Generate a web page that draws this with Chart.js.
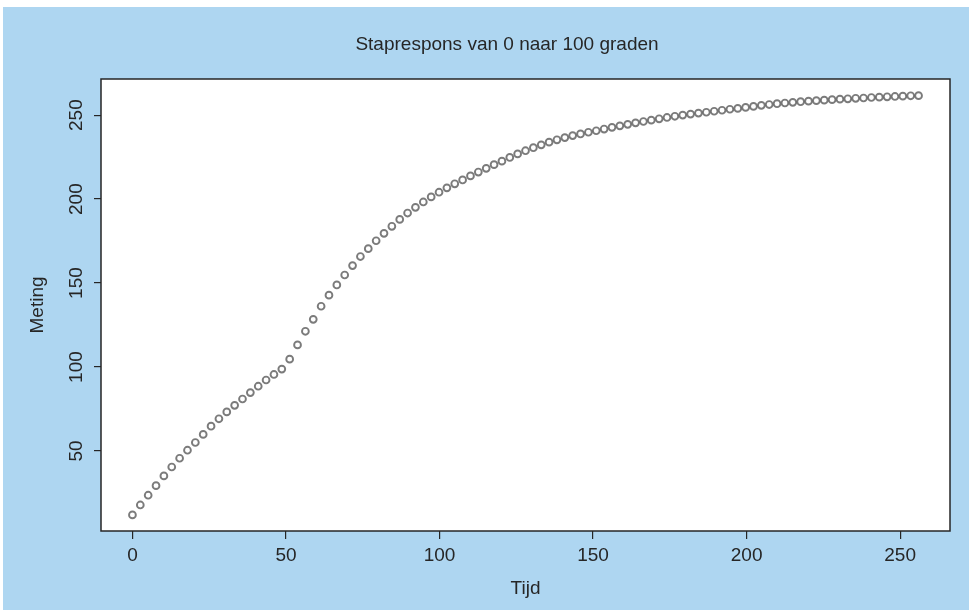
<!DOCTYPE html>
<html>
<head>
<meta charset="utf-8">
<title>Staprespons</title>
<script src="https://cdn.jsdelivr.net/npm/chart.js@4/dist/chart.umd.min.js"></script>
<style>
  html, body { margin: 0; padding: 0; background: #fff; }
  canvas { display: block; }
</style>
</head>
<body>
<canvas class="myChart" width="969" height="610"></canvas>
<script>
// tijd (x) en meting (y)
const tijd = [
    0, 2.56, 5.12, 7.68, 10.24, 12.8, 15.36, 17.92, 20.48, 23.04,
    25.6, 28.16, 30.72, 33.28, 35.84, 38.4, 40.96, 43.52, 46.08, 48.64,
    51.2, 53.76, 56.32, 58.88, 61.44, 64, 66.56, 69.12, 71.68, 74.24,
    76.8, 79.36, 81.92, 84.48, 87.04, 89.6, 92.16, 94.72, 97.28, 99.84,
    102.4, 104.96, 107.52, 110.08, 112.64, 115.2, 117.76, 120.32, 122.88, 125.44,
    128, 130.56, 133.12, 135.68, 138.24, 140.8, 143.36, 145.92, 148.48, 151.04,
    153.6, 156.16, 158.72, 161.28, 163.84, 166.4, 168.96, 171.52, 174.08, 176.64,
    179.2, 181.76, 184.32, 186.88, 189.44, 192, 194.56, 197.12, 199.68, 202.24,
    204.8, 207.36, 209.92, 212.48, 215.04, 217.6, 220.16, 222.72, 225.28, 227.84,
    230.4, 232.96, 235.52, 238.08, 240.64, 243.2, 245.76, 248.32, 250.88, 253.44,
    256
];
const meting = [
    12.0, 17.9, 23.7, 29.4, 35.2, 40.5, 45.7, 50.5, 55.1, 59.9,
    64.8, 69.2, 73.3, 77.2, 81.0, 84.8, 88.6, 92.3, 95.6, 98.8,
    104.7, 113.2, 121.3, 128.4, 136.2, 142.8, 148.9, 154.8, 160.4, 165.8,
    170.5, 175.2, 179.6, 183.8, 187.9, 191.7, 195.1, 198.3, 201.3, 204.1,
    206.7, 209.1, 211.4, 213.8, 216.1, 218.3, 220.5, 222.6, 224.8, 226.9,
    228.8, 230.6, 232.3, 233.9, 235.3, 236.6, 237.8, 238.8, 239.8, 240.7,
    241.7, 242.7, 243.6, 244.5, 245.4, 246.2, 247.0, 247.8, 248.6, 249.3,
    250.0, 250.6, 251.2, 251.7, 252.3, 252.9, 253.5, 254.0, 254.6, 255.2,
    255.8, 256.3, 256.8, 257.2, 257.6, 258.0, 258.3, 258.6, 258.9, 259.2,
    259.5, 259.7, 260.0, 260.2, 260.5, 260.7, 260.9, 261.1, 261.3, 261.5,
    261.6
];
const xTicks = [0, 50, 100, 150, 200, 250];
const yTicks = [50, 100, 150, 200, 250];

const font = "'Liberation Sans', Arial, sans-serif";
const ink = '#262626';

// blauwe achtergrond, wit plotvlak en kader
const achtergrond = {
    id: 'achtergrond',
    beforeDraw(chart) {
        const c = chart.ctx;
        const a = chart.chartArea;
        c.save();
        c.fillStyle = '#fff';
        c.fillRect(0, 0, chart.width, chart.height);
        c.fillStyle = '#aed6f1';
        c.fillRect(3, 7, chart.width - 3, chart.height - 7);
        c.fillStyle = '#fff';
        c.fillRect(a.left, a.top, a.right - a.left, a.bottom - a.top);
        c.restore();
    },
    afterDraw(chart) {
        const c = chart.ctx;
        const a = chart.chartArea;
        c.save();
        c.strokeStyle = ink;
        c.lineWidth = 1.5;
        c.strokeRect(a.left, a.top, a.right - a.left, a.bottom - a.top);
        c.restore();
    }
};

const ctx = document.querySelector('.myChart').getContext('2d');
const myChart = new Chart(ctx, {
    type: 'scatter',
    data: {
        datasets: [{
            label: 'Meting',
            data: tijd.map((t, i) => ({ x: t, y: meting[i] })),
            pointRadius: 3.4,
            pointBorderWidth: 1.9,
            pointBorderColor: 'rgba(100, 100, 100, 0.85)',
            pointBackgroundColor: 'rgba(255, 255, 255, 0)',
            showLine: false
        }]
    },
    options: {
        responsive: false,
        animation: false,
        // links 64 zodat de titel boven het plotvlak op de goede plek staat
        layout: { padding: { left: 64, right: 19, top: 0, bottom: 0 } },
        plugins: {
            legend: { display: false },
            tooltip: { enabled: false },
            title: {
                display: true,
                text: 'Staprespons van 0 naar 100 graden',
                color: ink,
                font: { family: font, size: 19, weight: 'normal' },
                padding: { top: 33.6, bottom: 22.6 }
            }
        },
        scales: {
            x: {
                type: 'linear',
                min: -10.24,
                max: 266.24,
                afterBuildTicks: (scale) => { scale.ticks = xTicks.map(v => ({ value: v })); },
                afterFit: (scale) => { scale.height = 79; },
                grid: { drawOnChartArea: false, tickLength: 8, color: ink, lineWidth: 1.2 },
                border: { display: false },
                ticks: { color: ink, padding: 5, font: { family: font, size: 19 }, maxRotation: 0 },
                title: {
                    display: true,
                    text: 'Tijd',
                    color: ink,
                    font: { family: font, size: 19 },
                    padding: { top: 0, bottom: 9.6 }
                }
            },
            y: {
                type: 'linear',
                min: 2.4,
                max: 271.5,
                afterBuildTicks: (scale) => { scale.ticks = yTicks.map(v => ({ value: v })); },
                afterFit: (scale) => { scale.width = 37; },
                grid: { drawOnChartArea: false, tickLength: 7, color: ink, lineWidth: 1.2 },
                border: { display: false },
                ticks: {
                    color: ink,
                    padding: 1,
                    minRotation: 90,
                    maxRotation: 90,
                    crossAlign: 'center',
                    font: { family: font, size: 19 }
                },
                title: {
                    display: true,
                    text: 'Meting',
                    color: ink,
                    font: { family: font, size: 19 },
                    padding: { top: -37.4, bottom: 0 }
                }
            }
        }
    },
    plugins: [achtergrond]
});
</script>
</body>
</html>
